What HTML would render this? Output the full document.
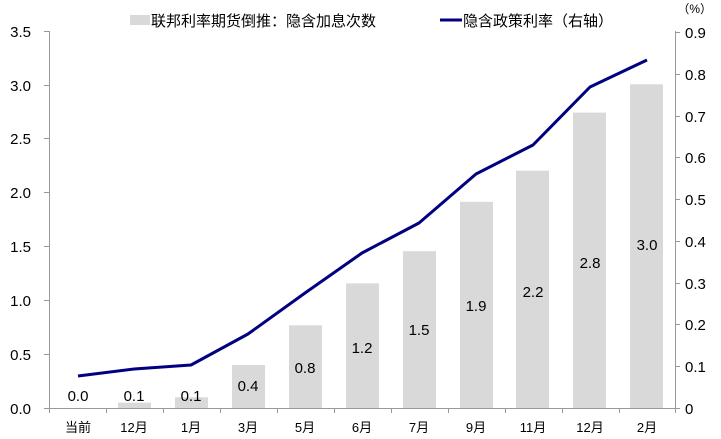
<!DOCTYPE html><html><head><meta charset="utf-8"><style>body{margin:0;background:#fff}svg{display:block}text{font-family:"Liberation Sans","Noto Sans CJK SC",sans-serif;fill:#000}</style></head><body>
<svg width="721" height="439" viewBox="0 0 721 439">
<rect x="130" y="15" width="20" height="10" fill="#d9d9d9"/>
<text x="151" y="26" font-size="15">联邦利率期货倒推：隐含加息次数</text>
<line x1="440" y1="20" x2="462" y2="20" stroke="#000080" stroke-width="3"/>
<text x="463" y="26" font-size="15">隐含政策利率（右轴）</text>
<text x="712" y="13" font-size="12" text-anchor="end" fill="#333">（%）</text>
<g fill="#d9d9d9">
<rect x="118" y="402.6" width="33" height="5.4"/>
<rect x="175" y="397.3" width="33" height="10.7"/>
<rect x="232" y="365" width="33" height="43"/>
<rect x="289" y="325.3" width="33" height="82.7"/>
<rect x="346" y="283.4" width="33" height="124.6"/>
<rect x="403" y="251.2" width="33" height="156.8"/>
<rect x="460" y="201.8" width="33" height="206.2"/>
<rect x="516" y="170.7" width="33" height="237.3"/>
<rect x="573" y="112.6" width="33" height="295.4"/>
<rect x="630" y="84.3" width="33" height="323.7"/>
</g>
<g font-size="15" text-anchor="middle">
<text x="78" y="401">0.0</text><text x="134" y="401">0.1</text><text x="191" y="401">0.1</text>
<text x="248" y="391">0.4</text><text x="305" y="373">0.8</text><text x="362" y="353">1.2</text>
<text x="419" y="335">1.5</text><text x="476" y="311">1.9</text><text x="533" y="297">2.2</text>
<text x="590" y="268">2.8</text><text x="647" y="250">3.0</text>
</g>
<polyline fill="none" stroke="#000080" stroke-width="3" stroke-linejoin="round" points="78,376 134,369 191,365 248,334 305,293 362,253 419,223 476,174 533,145 590,87 647,60"/>
<g stroke="#999" stroke-width="1" fill="none">
<line x1="49.5" y1="31" x2="49.5" y2="408"/>
<line x1="49" y1="408.5" x2="675" y2="408.5"/>
<line x1="675.5" y1="31" x2="675.5" y2="408"/>
<path d="M44 31.5h5M44 85.5h5M44 138.5h5M44 192.5h5M44 246.5h5M44 300.5h5M44 354.5h5M44 408.5h5"/>
<path d="M675 32.5h5M675 74.5h5M675 116.5h5M675 157.5h5M675 199.5h5M675 241.5h5M675 283.5h5M675 324.5h5M675 366.5h5M675 408.5h5"/>
<path d="M49.5 408v5M106.5 408v5M163.5 408v5M220.5 408v5M277.5 408v5M334.5 408v5M391.5 408v5M448.5 408v5M505.5 408v5M562.5 408v5M619.5 408v5M675.5 408v5"/>
</g>
<g font-size="15" text-anchor="end">
<text x="31" y="37">3.5</text><text x="31" y="91">3.0</text><text x="31" y="144">2.5</text><text x="31" y="198">2.0</text>
<text x="31" y="252">1.5</text><text x="31" y="306">1.0</text><text x="31" y="360">0.5</text><text x="31" y="414">0.0</text>
</g>
<g font-size="15">
<text x="685" y="38">0.9</text><text x="685" y="80">0.8</text><text x="685" y="122">0.7</text><text x="685" y="163">0.6</text>
<text x="685" y="205">0.5</text><text x="685" y="247">0.4</text><text x="685" y="289">0.3</text><text x="685" y="330">0.2</text>
<text x="685" y="372">0.1</text><text x="685" y="414">0</text>
</g>
<g font-size="13" text-anchor="middle">
<text x="78" y="432">当前</text><text x="134" y="432">12月</text><text x="191" y="432">1月</text><text x="248" y="432">3月</text>
<text x="305" y="432">5月</text><text x="362" y="432">6月</text><text x="419" y="432">7月</text><text x="476" y="432">9月</text>
<text x="533" y="432">11月</text><text x="590" y="432">12月</text><text x="647" y="432">2月</text>
</g>
</svg></body></html>
